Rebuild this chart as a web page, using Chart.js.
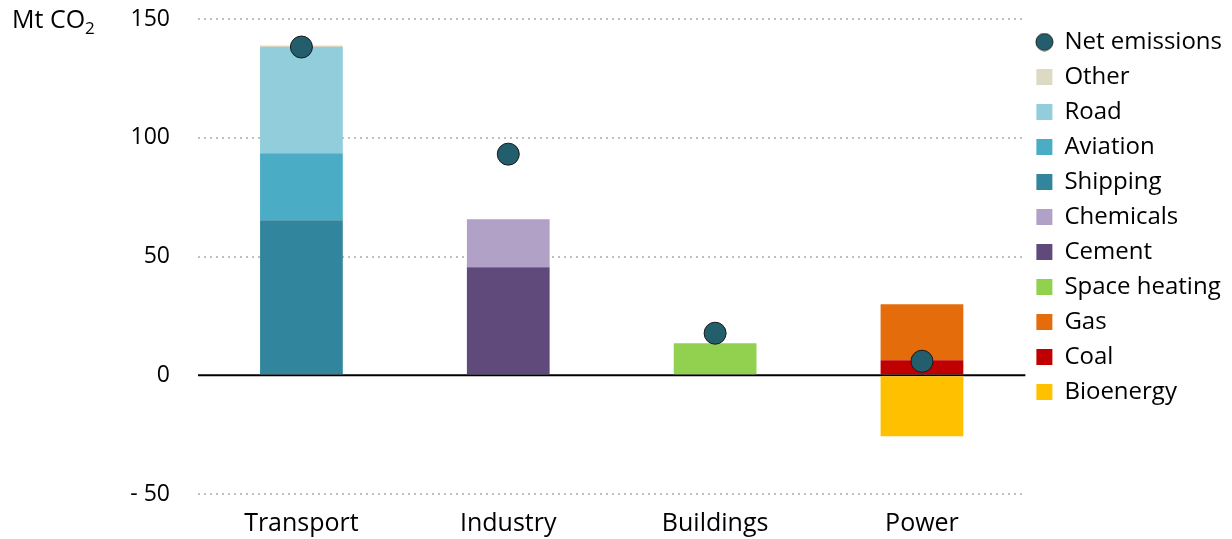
<!DOCTYPE html>
<html>
<head>
<meta charset="utf-8">
<script src="https://cdn.jsdelivr.net/npm/chart.js@4.4.1/dist/chart.umd.min.js"></script>
<style>
  html, body { margin: 0; padding: 0; background: #fff; }
  #wrap { position: relative; width: 1232px; height: 539px; }
  #unit { position: absolute; left: 12px; top: 1px; font: 25px "Open Sans", sans-serif; color: #000; }
  #unit sub { font-size: 17px; vertical-align: -6px; line-height: 0; }
</style>
</head>
<body>
<div id="wrap">
  <canvas id="myChart" width="1232" height="539"></canvas>
  <div id="unit">Mt CO<sub>2</sub></div>
</div>
<script>
// categorias y valores (Mt CO2)
const categorias = ['Transport', 'Industry', 'Buildings', 'Power'];
const netEmissions = [138.2, 93.1, 17.7, 5.9];
const other = [0.6, null, null, null];
const road = [44.7, null, null, null];
const aviation = [28.2, null, null, null];
const shipping = [65.3, null, null, null];
const chemicals = [null, 20.2, null, null];
const cement = [null, 45.5, null, null];
const spaceHeating = [null, null, 13.5, null];
const gas = [null, null, null, 23.6];
const coal = [null, null, null, 6.3];
const bioenergy = [null, null, null, -25.7];
const yTicks = [-50, 0, 50, 100, 150];

const fuente = '"Open Sans", sans-serif';
const colorPunto = '#235e6d';

function barra(label, data, color) {
  return {
    type: 'bar',
    label: label,
    data: data,
    backgroundColor: color,
    borderWidth: 0,
    pointStyle: 'rect',
    order: 1
  };
}

// circulo pequeño para la leyenda
const circuloLeyenda = document.createElement('canvas');
circuloLeyenda.width = 19;
circuloLeyenda.height = 19;
(function () {
  const c = circuloLeyenda.getContext('2d');
  c.beginPath();
  c.arc(9.5, 9.5, 8.5, 0, Math.PI * 2);
  c.fillStyle = colorPunto;
  c.fill();
  c.lineWidth = 1;
  c.strokeStyle = '#1a1a1a';
  c.stroke();
})();

// Dibuja la linea del cero en negro
const lineaCero = {
  id: 'lineaCero',
  beforeDatasetsDraw(chart) {
    const y = chart.scales.y.getPixelForValue(0);
    const area = chart.chartArea;
    const ctx = chart.ctx;
    ctx.save();
    ctx.strokeStyle = '#000';
    ctx.lineWidth = 2;
    ctx.beginPath();
    ctx.moveTo(area.left, y);
    ctx.lineTo(area.right, y);
    ctx.stroke();
    ctx.restore();
  }
};

var ctx = document.getElementById('myChart').getContext('2d');

var myChart = new Chart(ctx, {
  data: {
    labels: categorias,
    datasets: [
      {
        type: 'line',
        label: 'Net emissions',
        data: netEmissions,
        showLine: false,
        pointStyle: 'circle',
        pointRadius: 11,
        pointHoverRadius: 11,
        pointBackgroundColor: colorPunto,
        pointBorderColor: '#1a1a1a',
        pointBorderWidth: 1,
        backgroundColor: colorPunto,
        borderColor: '#1a1a1a',
        borderWidth: 1,
        order: 0
      },
      barra('Bioenergy', bioenergy, '#ffc000'),
      barra('Coal', coal, '#c00000'),
      barra('Gas', gas, '#e46c0a'),
      barra('Space heating', spaceHeating, '#92d050'),
      barra('Cement', cement, '#604a7b'),
      barra('Chemicals', chemicals, '#b2a1c7'),
      barra('Shipping', shipping, '#31859c'),
      barra('Aviation', aviation, '#4bacc6'),
      barra('Road', road, '#92cddc'),
      barra('Other', other, '#ddd9c3')
    ]
  },
  options: {
    responsive: false,
    animation: false,
    layout: { padding: { top: 19, left: 0, right: 0, bottom: 0 } },
    datasets: {
      bar: { categoryPercentage: 1, barPercentage: 0.4 }
    },
    scales: {
      x: {
        stacked: true,
        grid: { display: false },
        border: { display: false },
        ticks: { color: '#000', font: { family: fuente, size: 25 }, padding: 7 },
        afterFit: s => { s.height = 45; }
      },
      y: {
        stacked: true,
        min: -50,
        max: 150,
        afterBuildTicks: s => { s.ticks = yTicks.map(v => ({ value: v })); },
        grid: {
          color: c => c.tick && c.tick.value === 0 ? 'rgba(0,0,0,0)' : '#bfbfbf',
          lineWidth: 2,
          drawTicks: false
        },
        border: { display: false, dash: [2, 4] },
        ticks: {
          color: '#000',
          font: { family: fuente, size: 23 },
          padding: 28,
          callback: v => v < 0 ? '- ' + Math.abs(v) : v
        },
        afterFit: s => { s.width = 198; s.paddingTop = 0; s.paddingBottom = 0; }
      }
    },
    plugins: {
      legend: {
        position: 'right',
        align: 'start',
        labels: {
          color: '#000',
          font: { family: fuente, size: 24 },
          usePointStyle: true,
          boxWidth: 16,
          boxHeight: 16,
          padding: 11,
          generateLabels: chart => {
            const items = Chart.defaults.plugins.legend.labels.generateLabels(chart);
            items.forEach(it => { if (it.datasetIndex === 0) it.pointStyle = circuloLeyenda; });
            return items;
          },
          sort: (a, b) => {
            const r = i => i === 0 ? -100 : -i;
            return r(a.datasetIndex) - r(b.datasetIndex);
          }
        }
      },
      tooltip: { enabled: false }
    }
  },
  plugins: [lineaCero]
});
</script>
</body>
</html>
